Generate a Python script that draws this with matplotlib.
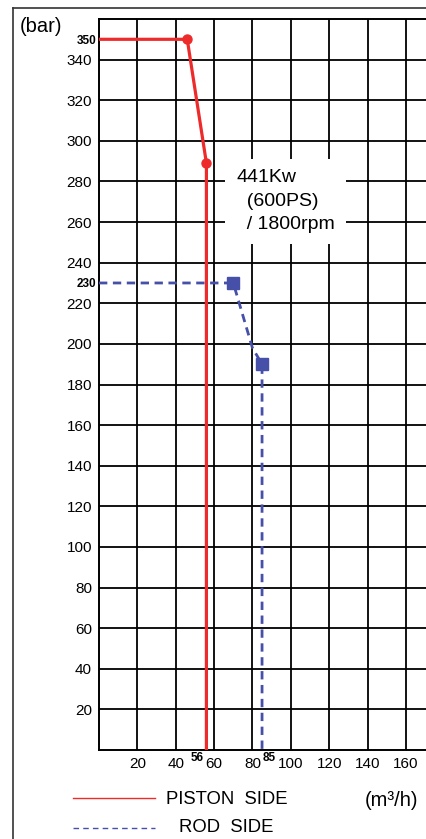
import matplotlib.pyplot as plt
from matplotlib.lines import Line2D

# piston side curve (m3/h, bar)
piston_q = [0, 46, 56, 56]
piston_p = [350, 350, 289, 0]
# rod side curve
rod_q = [0, 70, 80, 85, 85]
rod_p = [230, 230, 198, 190, 0]

x_ticks = [20, 40, 60, 80, 100, 120, 140, 160]
y_ticks = list(range(20, 341, 20))
x_marks = [56, 85]
y_marks = [230, 350]

W, H = 427, 839
fig = plt.figure(figsize=(W / 100, H / 100), dpi=100)
ax = fig.add_axes([99 / W, (H - 750) / H, 1 - 99 / W, (750 - 19) / H])
ax.set_xlim(0, 171)
ax.set_ylim(0, 360)

font = 'Liberation Sans'
ax.set_xticks(x_ticks)
ax.set_xticklabels([str(v) for v in x_ticks], fontsize=11, family=font)
ax.set_yticks(y_ticks)
ax.set_yticklabels([str(v) for v in y_ticks], fontsize=11, family=font)
ax.set_yticks(y_marks, minor=True)
ax.set_yticklabels([str(v) for v in y_marks], minor=True, fontsize=8.5,
                   family=font, fontweight='bold')
ax.tick_params(which='major', length=0, pad=5)
ax.tick_params(which='minor', length=0, pad=2)
ax.grid(True, which='major', color='black', lw=1.3, zorder=1)
ax.set_axisbelow(True)
for s in ax.spines.values():
    s.set_linewidth(1.4)
ax.spines['right'].set_visible(False)

# small flow marks under the axis
tr = ax.get_xaxis_transform()
ax.text(x_marks[0] - 1.5, -0.011, str(x_marks[0]), transform=tr, ha='right',
        va='center', fontsize=8.5, family=font, fontweight='bold')
ax.text(x_marks[1] + 0.5, -0.011, str(x_marks[1]), transform=tr, ha='left',
        va='center', fontsize=8.5, family=font, fontweight='bold')

ax.plot(piston_q, piston_p, color='#ee2b2b', lw=2.3, zorder=4)
ax.plot(piston_q[1:3], piston_p[1:3], 'o', color='#ee2b2b', ms=6.5, zorder=5)
ax.plot(rod_q, rod_p, color='#4650a8', lw=2.0, ls=(0, (3, 2)), zorder=4)
ax.plot([rod_q[1], rod_q[3]], [rod_p[1], rod_p[3]], 's', color='#4650a8',
        ms=8.5, zorder=5)

ax.text(71.5, 286, '441Kw\n  (600PS)\n  / 1800rpm', fontsize=14, family=font,
        ha='left', va='top', linespacing=1.5, zorder=3,
        bbox=dict(boxstyle='square,pad=0.55', facecolor='white', edgecolor='none'))

# outer frame
fig.add_artist(Line2D([13 / W, 13 / W], [0, 1 - 8 / H], color='#333333', lw=1.2))
fig.add_artist(Line2D([13 / W, 1], [1 - 8 / H, 1 - 8 / H], color='#333333', lw=1.2))

fig.text(20 / W, 1 - 27 / H, '(bar)', fontsize=14.5, family=font, va='center')
fig.text(365 / W, 1 - 800 / H, '(m³/h)', fontsize=14.5, family=font, va='center')

# legend
fig.add_artist(Line2D([73 / W, 155 / W], [1 - 798 / H] * 2, color='#ee2b2b', lw=1.0))
fig.add_artist(Line2D([73 / W, 155 / W], [1 - 828 / H] * 2, color='#4650a8',
                      lw=1.0, ls=(0, (4, 3))))
fig.text(166 / W, 1 - 800 / H, 'PISTON  SIDE', fontsize=13.3, family=font, va='center')
fig.text(179 / W, 1 - 828 / H, 'ROD  SIDE', fontsize=13.3, family=font, va='center')

fig.savefig('out.png', dpi=100)
